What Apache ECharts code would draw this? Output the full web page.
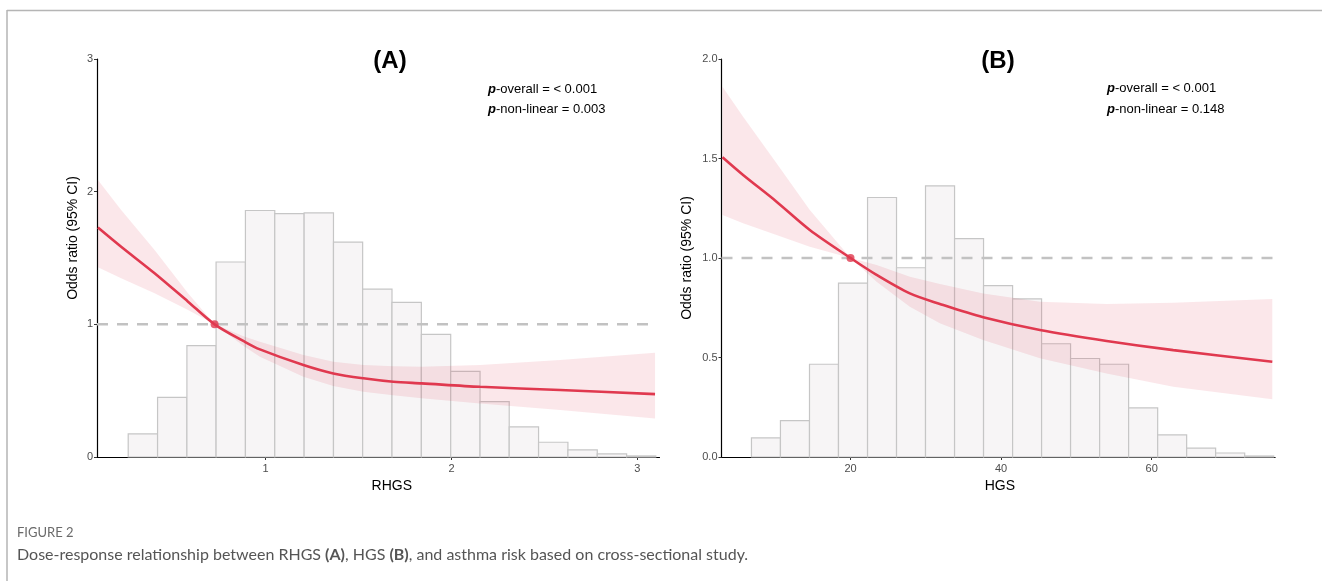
<!DOCTYPE html>
<html><head><meta charset="utf-8">
<script src="https://cdn.jsdelivr.net/npm/echarts@6/dist/echarts.min.js"></script>
<style>html,body{margin:0;padding:0;background:#fff}#c{width:1322px;height:581px}</style>
</head><body><div id="c"></div>
<script>
// ---- Panel A (RHGS) ----
var binEdgesA = [0.260,0.418,0.576,0.733,0.891,1.049,1.207,1.365,1.522,1.680,1.838,1.996,2.154,2.311,2.469,2.627,2.785,2.943,3.100];
var binHeightsA = [0.174,0.45,0.84,1.47,1.858,1.835,1.84,1.62,1.266,1.165,0.925,0.645,0.417,0.227,0.111,0.053,0.023,0.008];
var curveXA = [0.097,0.222,0.402,0.582,0.725,0.887,0.969,1.203,1.364,1.526,1.687,1.84,2.154,2.585,3.096];
var curveYA = [1.73,1.585,1.385,1.171,1.0,0.869,0.811,0.693,0.630,0.593,0.567,0.555,0.529,0.505,0.474];
var ciUpperA = [2.088,1.862,1.56,1.234,1.0,0.906,0.869,0.768,0.718,0.693,0.684,0.68,0.693,0.731,0.786];
var ciLowerA = [1.43,1.347,1.234,1.108,1.0,0.831,0.756,0.605,0.535,0.492,0.465,0.442,0.404,0.354,0.291];
var refPointA = [0.725, 1.0];
var refLineXA = [0.092, 3.07];
var xTicksA = [1, 2, 3];
var yTicksA = [0, 1, 2, 3];

// ---- Panel B (HGS) ----
var binEdgesB = [6.84,10.69,14.55,18.40,22.26,26.11,29.96,33.82,37.67,41.53,45.38,49.23,53.09,56.94,60.80,64.65,68.50,72.36,76.21];
var binHeightsB = [0.096,0.183,0.466,0.874,1.304,0.951,1.362,1.097,0.861,0.795,0.569,0.495,0.466,0.247,0.111,0.045,0.020,0.005];
var curveXB = [2.99,5.73,10.17,14.59,20,23.46,27.88,31.87,37.62,45.16,54.02,62.87,76.03];
var curveYB = [1.506,1.417,1.283,1.141,1.0,0.915,0.822,0.769,0.702,0.638,0.583,0.537,0.479];
var ciUpperB = [1.861,1.71,1.476,1.241,1.0,0.965,0.906,0.869,0.822,0.78,0.769,0.775,0.794];
var ciLowerB = [1.216,1.174,1.116,1.057,1.0,0.881,0.755,0.672,0.588,0.496,0.42,0.353,0.29];
var refPointB = [20, 1.0];
var refLineXB = [2.86, 76.4];
var xTicksB = [20, 40, 60];
var yTicksB = [0, 0.5, 1.0, 1.5, 2.0];

var RED = '#e0394f';
var FONT = '"Liberation Sans", Arial, sans-serif';
var CAPFONT = 'Lato, "Open Sans", sans-serif';

function histData(edges, h){ var d=[]; for(var i=0;i<h.length;i++) d.push([edges[i], edges[i+1], h[i]]); return d; }
function pairs(xs, ys){ return xs.map(function(x,i){ return [x, ys[i]]; }); }
function bandData(xs, lo, hi){ return xs.map(function(x,i){ return [x, lo[i], hi[i]]; }); }

function renderHist(params, api){
  var p0 = api.coord([api.value(0), api.value(2)]);
  var p1 = api.coord([api.value(1), 0]);
  return {type:'rect', shape:{x:p0[0], y:p0[1], width:p1[0]-p0[0], height:p1[1]-p0[1]},
    style:{fill:'#f7f5f6', stroke:'#c6c6c6', lineWidth:1.2}};
}
function makeBandRenderer(xs, lo, hi){
  return function(params, api){
    if (params.dataIndex !== 0) return null;
    var pts = [];
    for (var i=0;i<xs.length;i++) pts.push(api.coord([xs[i], hi[i]]));
    for (var j=xs.length-1;j>=0;j--) pts.push(api.coord([xs[j], lo[j]]));
    return {type:'polygon', shape:{points:pts}, style:{fill:'rgba(224,57,79,0.12)', stroke:null}};
  };
}

function xAxisCfg(idx, min, max, ticks, name, pad){
  return {type:'value', gridIndex:idx, min:min, max:max, name:name, nameLocation:'middle', nameGap:22,
    nameTextStyle:{color:'#000', fontSize:14, fontFamily:FONT, padding:pad},
    axisLine:{show:true, onZero:false, lineStyle:{color:'#000', width:1.2}},
    axisTick:{show:true, length:3, customValues:ticks, lineStyle:{color:'#333'}},
    axisLabel:{customValues:ticks, color:'#4d4d4d', fontSize:11, fontFamily:FONT, margin:6},
    splitLine:{show:false}};
}
function yAxisCfg(idx, max, interval, digits, gap, pad){
  return {type:'value', gridIndex:idx, min:0, max:max, interval:interval, name:'Odds ratio (95% CI)',
    nameLocation:'middle', nameRotate:90, nameGap:gap,
    nameTextStyle:{color:'#000', fontSize:14, fontFamily:FONT, padding:pad},
    axisLine:{show:true, onZero:false, lineStyle:{color:'#000', width:1.2}},
    axisTick:{show:true, length:3, lineStyle:{color:'#333'}},
    axisLabel:{color:'#4d4d4d', fontSize:11, fontFamily:FONT, margin:4,
      formatter:function(v){ return v.toFixed(digits); }},
    splitLine:{show:false}};
}

function panelSeries(idx, edges, heights, cx, cy, lo, hi, refPt, refX){
  return [
    {type:'custom', xAxisIndex:idx, yAxisIndex:idx, renderItem:renderHist, data:histData(edges, heights),
      encode:{x:[0,1], y:2}, silent:true, z:1},
    {type:'custom', xAxisIndex:idx, yAxisIndex:idx, renderItem:makeBandRenderer(cx, lo, hi),
      data:bandData(cx, lo, hi), encode:{x:0, y:[1,2]}, silent:true, z:2},
    {type:'line', xAxisIndex:idx, yAxisIndex:idx, data:[[refX[0],1],[refX[1],1]], symbol:'none',
      lineStyle:{color:'#c2c2c2', width:2.5, type:[11,9]}, z:3, silent:true},
    {type:'line', xAxisIndex:idx, yAxisIndex:idx, data:pairs(cx, cy), symbol:'none', smooth:0.3,
      lineStyle:{color:RED, width:2.6}, z:4, silent:true},
    {type:'scatter', xAxisIndex:idx, yAxisIndex:idx, data:[refPt], symbol:'circle', symbolSize:8,
      itemStyle:{color:RED}, z:5, silent:true}
  ];
}

function pText(x, y, label){
  return {type:'text', x:x, y:y, style:{text:'{p|p}'+label, font:'13px '+FONT, fill:'#000',
    verticalAlign:'middle', rich:{p:{fontStyle:'italic', fontWeight:'bold', fontSize:13, fontFamily:FONT}}}};
}

var chart = echarts.init(document.getElementById('c'), null, {renderer:'canvas'});
chart.setOption({
  backgroundColor:'#fff',
  animation:false,
  grid:[
    {left:97, top:59, width:562.5, height:398, containLabel:false},
    {left:721.5, top:59, width:553.6, height:398, containLabel:false}
  ],
  xAxis:[
    xAxisCfg(0, 0.092, 3.12, xTicksA, 'RHGS', [0,0,0,27]),
    xAxisCfg(1, 2.86, 76.4, xTicksB, 'HGS', [0,0,0,3])
  ],
  yAxis:[
    yAxisCfg(0, 3, 1, 0, 17, [0,0,0,40]),
    yAxisCfg(1, 2, 0.5, 1, 27, [0,0,0,0])
  ],
  series: [].concat(
    panelSeries(0, binEdgesA, binHeightsA, curveXA, curveYA, ciLowerA, ciUpperA, refPointA, refLineXA),
    panelSeries(1, binEdgesB, binHeightsB, curveXB, curveYB, ciLowerB, ciUpperB, refPointB, refLineXB)
  ),
  graphic:[
    {type:'line', shape:{x1:7, y1:10.5, x2:1322, y2:10.5}, style:{stroke:'#b5b5b5', lineWidth:1.5}},
    {type:'line', shape:{x1:7, y1:10, x2:7, y2:581}, style:{stroke:'#b5b5b5', lineWidth:1.5}},
    {type:'text', x:390, y:61, style:{text:'(A)', font:'bold 24px '+FONT, fill:'#000', align:'center', verticalAlign:'middle'}},
    {type:'text', x:998, y:61, style:{text:'(B)', font:'bold 24px '+FONT, fill:'#000', align:'center', verticalAlign:'middle'}},
    pText(488, 89, '-overall = < 0.001'),
    pText(488, 109.5, '-non-linear = 0.003'),
    pText(1107, 88.5, '-overall = < 0.001'),
    pText(1107, 109, '-non-linear = 0.148'),
    {type:'text', x:17, y:533, style:{text:'FIGURE 2', font:'13px '+CAPFONT, fill:'#6a6a6a', verticalAlign:'middle'}},
    {type:'text', x:17, y:555, style:{text:'Dose-response relationship between RHGS {b|(A)}, HGS {b|(B)}, and asthma risk based on cross-sectional study.',
      font:'16px '+CAPFONT, fill:'#555', verticalAlign:'middle',
      rich:{b:{fontWeight:'bold', fontSize:16, fontFamily:CAPFONT, fill:'#555'}}}}
  ]
});
</script></body></html>
